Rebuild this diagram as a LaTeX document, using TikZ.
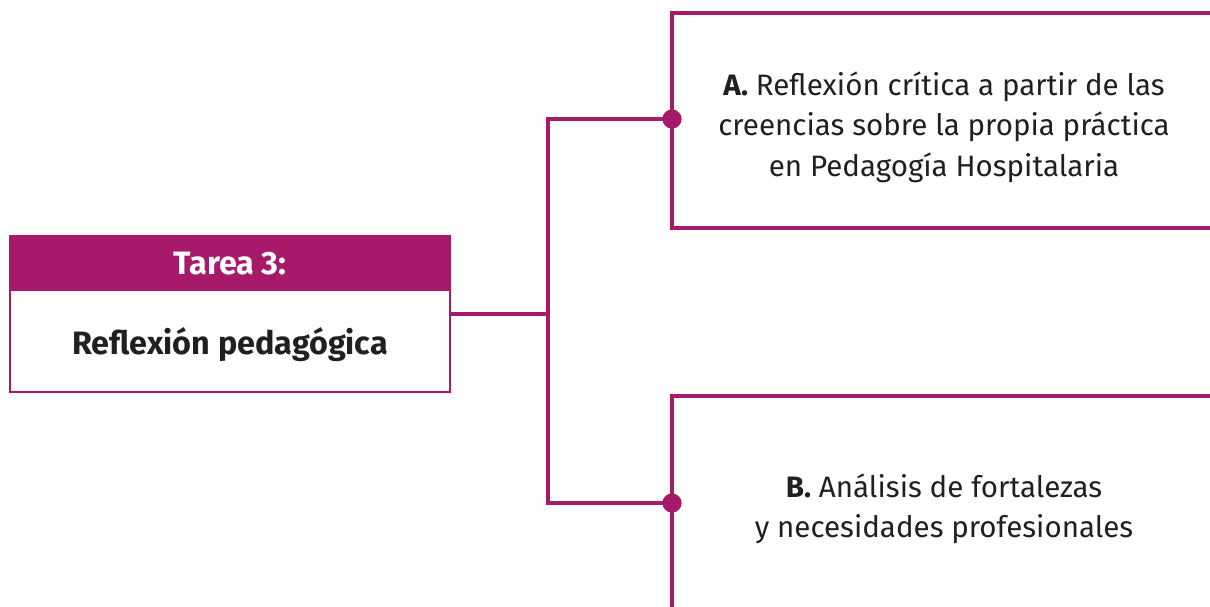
\documentclass[tikz,border=0pt]{standalone}
\usepackage{fontspec}
\setmainfont{Fira Sans}
\usetikzlibrary{positioning}
\definecolor{tareamagenta}{HTML}{A61A69}
\definecolor{tintanegra}{HTML}{231F20}

\begin{document}
\begin{tikzpicture}[x=0.025cm, y=-0.025cm,
	linea/.style={line width=2.3pt, color=tareamagenta},
	punto/.style={circle, fill=tareamagenta, inner sep=0pt, minimum size=0.48cm},
	titulo/.style={font=\fontsize{23}{28}\selectfont\bfseries},
	texto/.style={align=center, text=tintanegra, font=\fontsize{21}{28.8}\selectfont}]
		%%%%% START %%%%%
		
		\useasboundingbox (0, 0) rectangle (1210, 606);
		
		% caja de la tarea
		\draw[fill=tareamagenta, draw=tareamagenta] (10, 236) rectangle (450, 290);
		\draw[line width=1pt, color=tareamagenta] (10, 236) rectangle (450, 392);
		\node[titulo, text=white] (tarea) at (230, 264) {Tarea 3:};
		\node[titulo, text=tintanegra] (reflexion) at (230, 345) {Reflexión pedagógica};
		\coordinate (salida) at (450, 314);
		\coordinate (rama) at (548, 314);
		
		% cajas abiertas A y B
		\draw[linea] (1212, 13) -- (672, 13) -- (672, 228) -- (1212, 228);
		\draw[linea] (1212, 396) -- (672, 396) -- (672, 608);
		
		\node[texto] (critica) at (944, 127) {\textbf{A.} Reflexión crítica a partir de las\\creencias sobre la propia práctica\\en Pedagogía Hospitalaria};
		\node[texto] (analisis) at (944, 509) {\textbf{B.} Análisis de fortalezas\\y necesidades profesionales};
		
		% conectores
		\node[punto] (puntoA) at (672, 119) {};
		\node[punto] (puntoB) at (672, 503) {};
		\draw[linea] (salida) -- (rama);
		\draw[linea] (puntoA.center) -| (rama) |- (puntoB.center);
		
		%%%%% END %%%%%
	\end{tikzpicture}
\end{document}
